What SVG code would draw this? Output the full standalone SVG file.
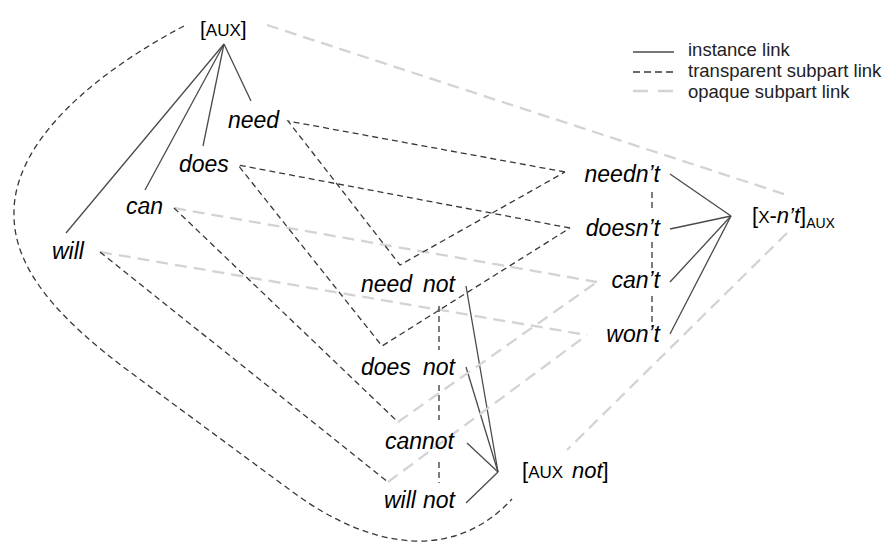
<svg xmlns="http://www.w3.org/2000/svg" width="884" height="543" viewBox="0 0 884 543">
<style>
.inst{stroke:#4a4a4a;stroke-width:1.3;fill:none}
.trans{stroke:#383838;stroke-width:1.3;stroke-dasharray:6 4;fill:none}
.opq{stroke:#d3d3d3;stroke-width:2.3;stroke-dasharray:12 7;fill:none}
.w{font-family:"Liberation Sans",Arial,sans-serif;font-size:23px;font-style:italic;fill:#000}
.r{font-family:"Liberation Sans",Arial,sans-serif;fill:#000}
.leg{font-family:"Liberation Sans",Arial,sans-serif;font-size:18.5px;fill:#222}
</style>
<rect width="884" height="543" fill="#fff"/>
<g id="connectors">
  <g id="instance-links">
    <line class="inst" x1="224" y1="44" x2="251" y2="101"/>
    <line class="inst" x1="224" y1="44" x2="203" y2="146"/>
    <line class="inst" x1="224" y1="44" x2="145" y2="190"/>
    <line class="inst" x1="224" y1="44" x2="66" y2="233"/>
    <line class="inst" x1="670" y1="174" x2="731" y2="216"/>
    <line class="inst" x1="670" y1="229" x2="731" y2="216"/>
    <line class="inst" x1="670" y1="282" x2="731" y2="216"/>
    <line class="inst" x1="670" y1="334" x2="731" y2="216"/>
    <line class="inst" x1="466" y1="286" x2="498" y2="472"/>
    <line class="inst" x1="466" y1="367" x2="498" y2="472"/>
    <line class="inst" x1="467" y1="443" x2="498" y2="472"/>
    <line class="inst" x1="466" y1="503" x2="498" y2="472"/>
  </g>
  <g id="opaque-links">
    <line class="opq" x1="267" y1="25" x2="787" y2="195"/>
    <line class="opq" x1="787" y1="233" x2="567" y2="450"/>
    <line class="opq" x1="174" y1="208" x2="597" y2="282"/>
    <line class="opq" x1="398" y1="422" x2="597" y2="282"/>
    <line class="opq" x1="100" y1="252" x2="587" y2="335"/>
    <line class="opq" x1="388" y1="482" x2="587" y2="335"/>
  </g>
  <g id="transparent-links">
    <polyline class="trans" points="565,172 288,121 400,265 565,172"/>
    <polyline class="trans" points="570,228 238,165 382,346 570,228"/>
    <line class="trans" x1="174" y1="208" x2="398" y2="422"/>
    <line class="trans" x1="100" y1="252" x2="388" y2="482"/>
    <line class="trans" x1="652" y1="192" x2="652" y2="210"/>
    <line class="trans" x1="652" y1="242" x2="652" y2="268"/>
    <line class="trans" x1="652" y1="296" x2="652" y2="325"/>
    <line class="trans" x1="439" y1="306" x2="439" y2="350"/>
    <line class="trans" x1="439" y1="385" x2="439" y2="420"/>
    <line class="trans" x1="439" y1="462" x2="439" y2="483"/>
    <path class="trans" d="M184,26 C100,70 12,140 14,215 C14,270 60,320 130,372 L290,490 C380,557 460,556 512,499"/>
  </g>
</g>
<g id="node-aux">
  <text class="r" x="200" y="36"><tspan font-size="21">[</tspan><tspan font-size="17">AUX</tspan><tspan font-size="21">]</tspan></text>
</g>
<g id="node-need"><text class="w" x="228" y="128">need</text></g>
<g id="node-does"><text class="w" x="179" y="172">does</text></g>
<g id="node-can"><text class="w" x="126" y="214">can</text></g>
<g id="node-will"><text class="w" x="52" y="259">will</text></g>
<g id="node-need-not"><text class="w" x="361" y="292">need<tspan x="423">not</tspan></text></g>
<g id="node-does-not"><text class="w" x="361" y="375">does<tspan x="423">not</tspan></text></g>
<g id="node-cannot"><text class="w" x="454" y="449" text-anchor="end">cannot</text></g>
<g id="node-will-not"><text class="w" x="384" y="508">will<tspan x="423">not</tspan></text></g>
<g id="node-neednt"><text class="w" x="660" y="182" text-anchor="end">needn’t</text></g>
<g id="node-doesnt"><text class="w" x="660" y="236" text-anchor="end">doesn’t</text></g>
<g id="node-cant"><text class="w" x="660" y="288" text-anchor="end">can’t</text></g>
<g id="node-wont"><text class="w" x="660" y="342" text-anchor="end">won’t</text></g>
<g id="node-x-nt-aux">
  <text class="r" x="752" y="223"><tspan font-size="22">[</tspan><tspan font-size="17">X</tspan><tspan font-size="22">-</tspan><tspan font-size="22" font-style="italic">n’t</tspan><tspan font-size="22">]</tspan><tspan font-size="14" dy="5">AUX</tspan></text>
</g>
<g id="node-aux-not">
  <text class="r" x="522" y="478"><tspan font-size="22">[</tspan><tspan font-size="17">AUX</tspan><tspan x="572" font-size="22" font-style="italic">not</tspan><tspan font-size="22">]</tspan></text>
</g>
<g id="legend">
  <line x1="633" y1="52" x2="674" y2="52" stroke="#4a4a4a" stroke-width="1.3"/>
  <line x1="633" y1="72" x2="674" y2="72" stroke="#383838" stroke-width="1.3" stroke-dasharray="7 4"/>
  <line x1="633" y1="91" x2="674" y2="91" stroke="#d3d3d3" stroke-width="2.3" stroke-dasharray="15 10"/>
  <text class="leg" x="688" y="56">instance link</text>
  <text class="leg" x="688" y="77">transparent subpart link</text>
  <text class="leg" x="688" y="98">opaque subpart link</text>
</g>
</svg>
